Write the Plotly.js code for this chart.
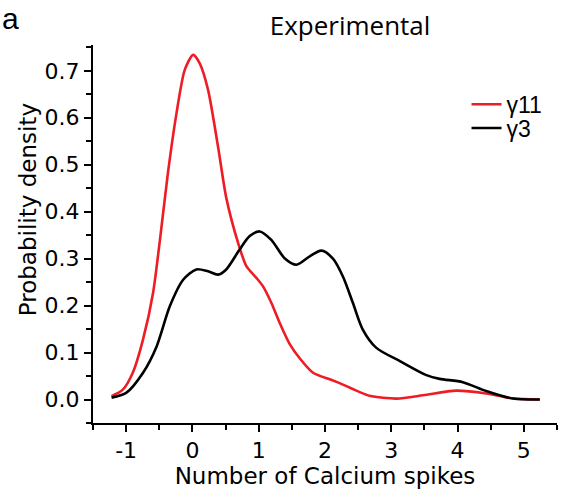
<!DOCTYPE html>
<html>
<head>
<meta charset="utf-8">
<script src="https://cdn.plot.ly/plotly-3.0.1.min.js"></script>
<style>html,body{margin:0;padding:0;background:#fff;}#chart{width:561px;height:490px;}</style>
</head>
<body>
<div id="chart"></div>
<script>
// γ11 (red) density curve
const xGamma11 = [-1.22,-1.05,-0.9,-0.745,-0.594,-0.49,-0.37,-0.24,-0.116,0.01,0.11,0.235,0.386,0.51,0.69,0.814,0.965,1.065,1.19,1.317,1.468,1.618,1.82,2.07,2.22,2.67,3.08,3.48,3.98,4.43,4.84,5.24];
const yGamma11 = [0.007,0.021,0.057,0.128,0.227,0.34,0.482,0.61,0.702,0.734,0.716,0.66,0.539,0.43,0.333,0.284,0.259,0.241,0.206,0.163,0.118,0.088,0.057,0.043,0.035,0.008,0.002,0.009,0.019,0.013,0.002,0.0];
// γ3 (black) density curve
const xGamma3 = [-1.22,-1.0,-0.745,-0.54,-0.34,-0.14,0.06,0.235,0.386,0.51,0.71,0.864,1.015,1.19,1.39,1.57,1.77,1.946,2.12,2.27,2.42,2.57,2.775,3.13,3.53,3.73,4.08,4.43,4.84,5.24];
const yGamma3 = [0.004,0.014,0.057,0.113,0.199,0.255,0.277,0.273,0.266,0.277,0.319,0.348,0.358,0.34,0.301,0.287,0.305,0.317,0.300,0.262,0.206,0.149,0.11,0.082,0.052,0.044,0.037,0.018,0.002,0.0];
const seriesNames = ['γ11','γ3'];
const xTickVals = [-1,0,1,2,3,4,5];
const xTickText = ['-1','0','1','2','3','4','5'];
const yTickVals = [0.0,0.1,0.2,0.3,0.4,0.5,0.6,0.7];

const traces = [
  {x:xGamma11, y:yGamma11, name:seriesNames[0], type:'scatter', mode:'lines', legend:'legend',
   line:{color:'#ee1c24', width:2.6, shape:'spline', smoothing:0.7}},
  {x:xGamma3, y:yGamma3, name:seriesNames[1], type:'scatter', mode:'lines', legend:'legend2',
   line:{color:'#000000', width:2.6, shape:'spline', smoothing:0.8}}
];

const tickFont = {family:'DejaVu Sans', size:22, color:'#000'};
const legendFont = {family:'Liberation Sans', size:23, color:'#000'};
const layout = {
  width:561, height:490,
  margin:{l:93, r:4, t:45, b:67, pad:0},
  paper_bgcolor:'#fff', plot_bgcolor:'#fff',
  showlegend:true,
  legend:{x:0.805, y:0.9, xanchor:'left', yanchor:'top', bgcolor:'rgba(0,0,0,0)', font:legendFont, itemwidth:30},
  legend2:{x:0.805, y:0.837, xanchor:'left', yanchor:'top', bgcolor:'rgba(0,0,0,0)', font:legendFont, itemwidth:30},
  title:{text:'Experimental', font:{family:'Open Sans', size:26, color:'#000'},
    x:0.624, xref:'container', xanchor:'center', y:0.948, yref:'container', yanchor:'middle'},
  xaxis:{range:[-1.5,5.5], tickvals:xTickVals, ticktext:xTickText, ticks:'outside', ticklen:7, tickwidth:2,
    tickcolor:'#000', showline:true, linewidth:2, linecolor:'#000', showgrid:false, zeroline:false,
    tickfont:tickFont,
    minor:{dtick:0.5, tick0:-1.5, ticks:'outside', ticklen:5, tickwidth:2, tickcolor:'#000', showgrid:false},
    title:{text:'Number of Calcium spikes', font:{family:'DejaVu Sans', size:23, color:'#000'}, standoff:4}},
  yaxis:{range:[-0.05,0.755], tickvals:yTickVals, tickformat:'.1f', ticks:'outside', ticklen:7, tickwidth:2,
    tickcolor:'#000', showline:true, linewidth:2, linecolor:'#000', showgrid:false, zeroline:false,
    tickfont:tickFont,
    minor:{dtick:0.05, tick0:0, ticks:'outside', ticklen:5, tickwidth:2, tickcolor:'#000', showgrid:false}},
  annotations:[
    {text:'Probability density', textangle:-90, xref:'paper', yref:'paper', x:-0.14, y:0.563,
     xanchor:'center', yanchor:'middle', showarrow:false, font:{family:'DejaVu Sans', size:23, color:'#000'}},
    {text:'a', xref:'paper', yref:'paper', x:-0.2, y:1.12, xanchor:'left', yanchor:'top', showarrow:false,
     font:{family:'Liberation Sans', size:30, color:'#000'}}
  ]
};
Plotly.newPlot('chart', traces, layout, {displayModeBar:false, staticPlot:true});
</script>
</body>
</html>
